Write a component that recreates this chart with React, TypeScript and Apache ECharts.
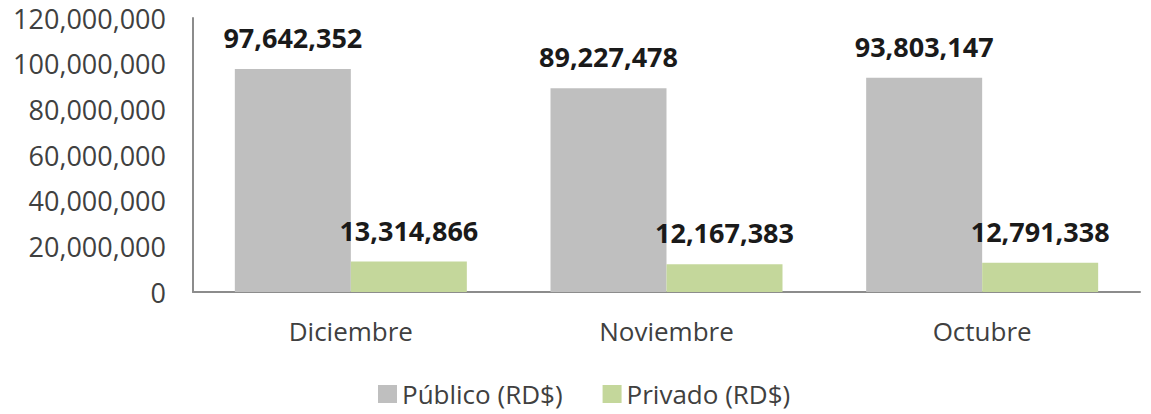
import React, { useEffect, useRef } from "react";
import * as echarts from "echarts";

const categories = ["Diciembre", "Noviembre", "Octubre"];
const publico = [97642352, 89227478, 93803147];
const privado = [13314866, 12167383, 12791338];
const seriesNames = ["Público (RD$)", "Privado (RD$)"];

const FONT = "'Open Sans', 'Noto Sans', sans-serif";
const fmt = (v: number) => v.toLocaleString("en-US");

export default function App() {
  const ref = useRef<HTMLDivElement>(null);
  useEffect(() => {
    document.body.style.margin = "0";
    if (!ref.current) return;
    const chart = echarts.init(ref.current, undefined, { renderer: "svg" });
    const label = {
      show: true,
      position: "top",
      distance: 18,
      fontFamily: FONT,
      fontSize: 27,
      fontWeight: "bold",
      color: "#1a1a1a",
      formatter: (p: any) => fmt(p.value),
    };
    chart.setOption({
      animation: false,
      textStyle: { fontFamily: FONT },
      grid: { left: 193, right: 11, top: 18, bottom: 122, containLabel: false },
      legend: {
        left: 373,
        top: 376,
        itemWidth: 19,
        itemHeight: 18,
        itemGap: 40,
        icon: "rect",
        textStyle: { fontFamily: FONT, fontSize: 26, color: "#404040" },
        data: seriesNames,
      },
      xAxis: {
        type: "category",
        data: categories,
        axisLine: { lineStyle: { color: "#8c8c8c", width: 2 } },
        axisTick: { show: false },
        axisLabel: { fontFamily: FONT, fontSize: 26, color: "#404040", margin: 26 },
      },
      yAxis: {
        type: "value",
        min: 0,
        max: 120000000,
        interval: 20000000,
        axisLine: { show: true, lineStyle: { color: "#8c8c8c", width: 2 } },
        axisTick: { show: false },
        splitLine: { show: false },
        axisLabel: {
          fontFamily: FONT,
          fontSize: 27,
          color: "#404040",
          margin: 27,
          formatter: (v: number) => fmt(v),
        },
      },
      series: [
        {
          name: seriesNames[0],
          type: "bar",
          data: publico,
          barWidth: 116,
          barGap: "0%",
          itemStyle: { color: "#bfbfbf" },
          label,
        },
        {
          name: seriesNames[1],
          type: "bar",
          data: privado,
          barWidth: 116,
          barGap: "0%",
          itemStyle: { color: "#c4d79b" },
          label,
        },
      ],
    });
    return () => chart.dispose();
  }, []);
  return <div ref={ref} style={{ width: 1151, height: 414 }} />;
}
